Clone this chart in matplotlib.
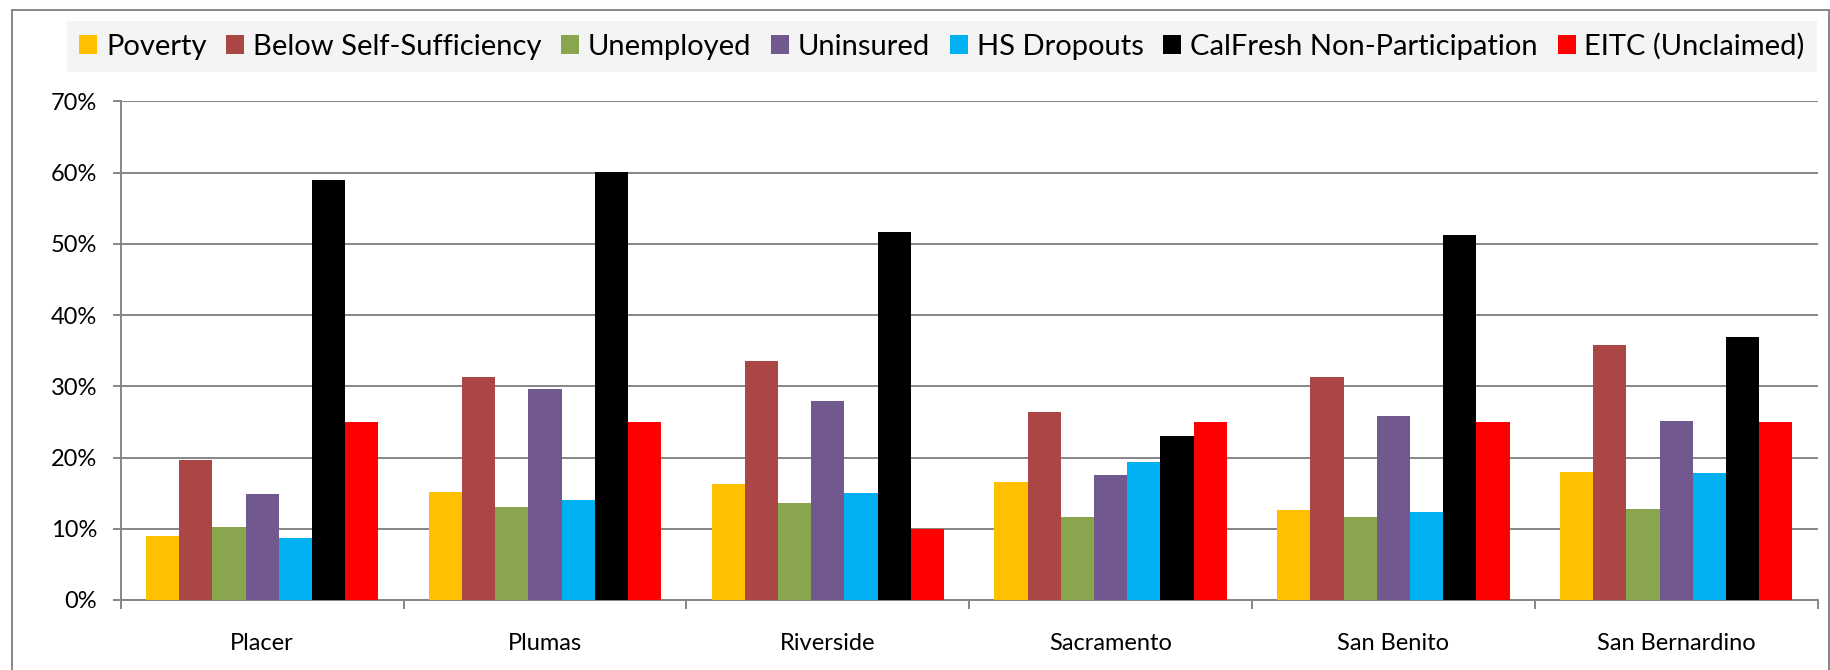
import matplotlib
matplotlib.use("Agg")
import matplotlib.pyplot as plt
import numpy as np
from matplotlib.ticker import PercentFormatter, FixedLocator
from matplotlib.lines import Line2D

plt.rcParams['font.family'] = ['Lato', 'DejaVu Sans']

counties = ["Placer", "Plumas", "Riverside", "Sacramento", "San Benito", "San Bernardino"]
series_names = ["Poverty", "Below Self-Sufficiency", "Unemployed", "Uninsured",
                "HS Dropouts", "CalFresh Non-Participation", "EITC (Unclaimed)"]
poverty      = [9.0, 15.2, 16.3, 16.6, 12.6, 18.0]
below_ss     = [19.6, 31.3, 33.5, 26.4, 31.3, 35.8]
unemployed   = [10.3, 13.1, 13.6, 11.7, 11.6, 12.8]
uninsured    = [14.9, 29.6, 27.9, 17.6, 25.8, 25.1]
hs_dropouts  = [8.7, 14.1, 15.0, 19.4, 12.4, 17.9]
calfresh     = [59.0, 60.1, 51.7, 23.0, 51.3, 36.9]
eitc         = [25.0, 25.0, 10.0, 25.0, 25.0, 25.0]
colors = ["#FFC000", "#AA4643", "#89A54E", "#71588F", "#00B0F0", "#000000", "#FF0000"]

all_series = [poverty, below_ss, unemployed, uninsured, hs_dropouts, calfresh, eitc]

W, H = 1831, 670
fig = plt.figure(figsize=(W / 100, H / 100), dpi=100)
ax = fig.add_axes([120.7 / W, 1 - 600 / H, (1817.7 - 120.7) / W, (600 - 101.4) / H])

grid_c = "#868686"
x = np.arange(len(counties))
bw = 0.1174
for j, (name, vals, c) in enumerate(zip(series_names, all_series, colors)):
    ax.bar(x + (j - 3) * bw, np.array(vals) / 100.0, width=bw, color=c, label=name,
           zorder=3, linewidth=0)

ax.set_xlim(-0.5, len(counties) - 0.5)
ax.set_ylim(0, 0.70)
ax.yaxis.set_major_locator(FixedLocator(np.arange(0, 0.71, 0.10)))
ax.yaxis.set_major_formatter(PercentFormatter(1.0, decimals=0))
ax.yaxis.grid(True, color=grid_c, linewidth=1.4, zorder=0)
ax.set_axisbelow(True)

ax.set_xticks(x)
ax.set_xticklabels(counties)
ax.set_xticks(np.arange(-0.5, len(counties), 1.0), minor=True)
ax.tick_params(axis='x', which='major', length=0, pad=24, labelsize=17, colors='black')
ax.tick_params(axis='x', which='minor', length=8.5 * 0.72, width=1.4, color=grid_c)
ax.tick_params(axis='y', which='major', length=8.5 * 0.72, width=1.4, color=grid_c,
               pad=11, labelsize=17, labelcolor='black')

for s in ['top', 'right']:
    ax.spines[s].set_visible(False)
for s in ['left', 'bottom']:
    ax.spines[s].set_color(grid_c)
    ax.spines[s].set_linewidth(1.4)

# legend
lx0, lx1, ly0, ly1 = 67, 1817, 22, 71
handles, labels = ax.get_legend_handles_labels()
leg = fig.legend(handles, labels, ncol=7, loc='center',
                 bbox_to_anchor=(lx0 / W, 1 - ly1 / H, (lx1 - lx0) / W, (ly1 - ly0) / H),
                 mode='expand', frameon=True, fancybox=False, fontsize=21,
                 handlelength=0.62, handleheight=0.62, handletextpad=0.3,
                 borderpad=0.42, borderaxespad=0, columnspacing=0.5)
leg.get_frame().set_facecolor("#F2F2F2")
leg.get_frame().set_edgecolor("#F2F2F2")
leg.get_frame().set_linewidth(0)

# outer chart border (left, top, right)
bx0, bx1, by0 = 12 / W, 1829 / W, 1 - 10 / H
for xs, ys in [([bx0, bx0], [0, by0]), ([bx0, bx1], [by0, by0]), ([bx1, bx1], [by0, 0])]:
    fig.add_artist(Line2D(xs, ys, color=grid_c, linewidth=1.4, transform=fig.transFigure))

fig.savefig("out.png", dpi=100)
